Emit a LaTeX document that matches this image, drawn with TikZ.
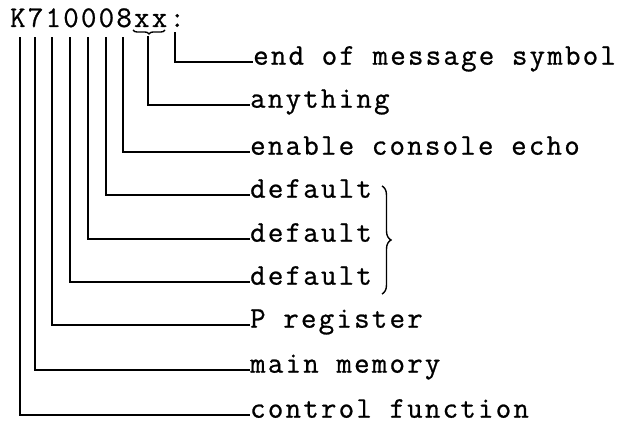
\documentclass[tikz,border=0pt]{standalone}
\usepackage{fontspec}
\newfontfamily\courfont{Latin Modern Mono}[LetterSpace=7.5, FakeBold=0.8]
\usetikzlibrary{decorations.pathreplacing}
\begin{document}
\begin{tikzpicture}[x=1pt,y=-1pt,
  txt/.style={font=\fontsize{30}{31}\selectfont\courfont, inner sep=1pt, anchor=west, text height=0.68em, text depth=0.14em},
  conn/.style={line width=1.9pt, line cap=rect},
  brc/.style={decorate, line width=1.4pt}]
\useasboundingbox (0,0) rectangle (635,427);
\node[txt, anchor=base west, inner sep=0pt] (code) at (10,27) {K710008xx:};
% label nodes
\node[txt] (eom) at (252,62) {end of message symbol};
\node[txt] (any) at (249,105) {anything};
\node[txt] (ena) at (249,152) {enable console echo};
\node[txt] (d1) at (249,195) {default};
\node[txt] (d2) at (249,239) {default};
\node[txt] (d3) at (249,282) {default};
\node[txt] (preg) at (249,325) {P register};
\node[txt] (mem) at (249,370) {main memory};
\node[txt] (ctl) at (249,415) {control function};
% start points under characters
\coordinate (c1) at (20,38);
\coordinate (c2) at (35,38);
\coordinate (c3) at (52,38);
\coordinate (c4) at (70,38);
\coordinate (c5) at (88,38);
\coordinate (c6) at (106,38);
\coordinate (c7) at (123,38);
\coordinate (cx) at (148,37);
\coordinate (cc) at (175,33);
% brace under xx
\draw[brc, decoration={brace, mirror, amplitude=4pt}] (133,30) -- (165,30);
% connectors
\draw[conn] (cc) |- (eom.west);
\draw[conn] (cx) |- (any.west);
\draw[conn] (c7) |- (ena.west);
\draw[conn] (c6) |- (d1.west);
\draw[conn] (c5) |- (d2.west);
\draw[conn] (c4) |- (d3.west);
\draw[conn] (c3) |- (preg.west);
\draw[conn] (c2) |- (mem.west);
\draw[conn] (c1) |- (ctl.west);
% brace grouping defaults
\draw[brc, decoration={brace, amplitude=9pt}] (382,186) -- (382,294);
\end{tikzpicture}
\end{document}
